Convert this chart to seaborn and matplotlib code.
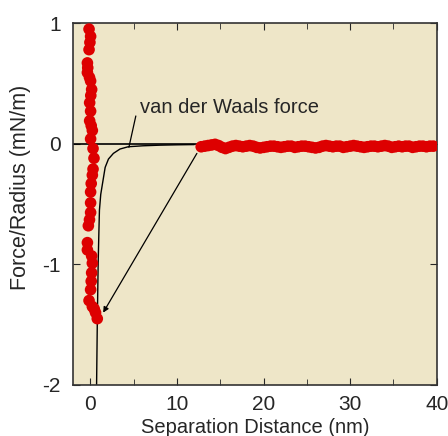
import numpy as np
import pandas as pd
import seaborn as sns
import matplotlib.pyplot as plt
from matplotlib.ticker import MultipleLocator

# approach branch (vertical column near contact)
col_x = [-0.15, 0.03, -0.05, -0.15, -0.34, -0.30, -0.34, -0.10, 0.03, 0.15, 0.05, -0.08,
         0.03, -0.08, 0.10, 0.23, 0.03, 0.31, 0.42, 0.31, 0.23, 0.10, 0.03, 0.03, 0.03,
         -0.10, -0.23, -0.34, -0.34, 0.15, 0.23, 0.15, 0.10, 0.03, -0.15, 0.23, 0.45,
         0.60, 0.80]
col_y = [0.95, 0.89, 0.84, 0.78, 0.67, 0.63, 0.59, 0.55, 0.52, 0.45, 0.40, 0.34,
         0.27, 0.19, 0.15, 0.11, 0.04, -0.04, -0.12, -0.21, -0.26, -0.33, -0.40, -0.49, -0.57,
         -0.63, -0.68, -0.82, -0.88, -0.93, -0.99, -1.07, -1.14, -1.21, -1.30, -1.35, -1.37,
         -1.40, -1.45]

# flat branch at large separation
row_x = [12.8, 13.2, 13.6, 14.0, 14.4, 14.8, 15.2, 15.6, 16.0, 16.4, 16.8, 17.2, 17.6, 18.0,
         18.4, 18.8, 19.2, 19.6, 20.0, 20.4, 20.8, 21.2, 21.6, 22.0, 22.4, 22.8, 23.2, 23.6,
         24.0, 24.4, 24.8, 25.2, 25.6, 26.0, 26.4, 26.8, 27.2, 27.6, 28.0, 28.4, 28.8, 29.2,
         29.6, 30.0, 30.4, 30.8, 31.2, 31.6, 32.0, 32.4, 32.8, 33.2, 33.6, 34.0, 34.4, 34.8,
         35.2, 35.6, 36.0, 36.4, 36.8, 37.2, 37.6, 38.0, 38.4, 38.8, 39.2, 39.6]
row_y = [-0.025, -0.020, -0.015, -0.010, -0.005, -0.015, -0.030, -0.040, -0.030, -0.020,
         -0.015, -0.020, -0.025, -0.020, -0.015, -0.020, -0.030, -0.035, -0.030, -0.025,
         -0.020, -0.020, -0.025, -0.030, -0.025, -0.020, -0.020, -0.030, -0.025, -0.020,
         -0.020, -0.025, -0.030, -0.035, -0.030, -0.020, -0.015, -0.020, -0.025, -0.020,
         -0.020, -0.030, -0.025, -0.020, -0.015, -0.020, -0.025, -0.030, -0.025, -0.020,
         -0.020, -0.025, -0.020, -0.015, -0.020, -0.030, -0.025, -0.020, -0.025, -0.020,
         -0.020, -0.030, -0.025, -0.020, -0.020, -0.025, -0.020, -0.020]

# van der Waals curve
vdw_x = [0.72, 0.80, 0.90, 0.98, 1.05, 1.20, 1.45, 1.71, 2.09, 2.66, 3.42, 4.37, 6.08, 8.0,
         10.0, 12.0]
vdw_y = [-2.0, -1.5, -1.0, -0.75, -0.55, -0.42, -0.31, -0.196, -0.127, -0.080, -0.044, -0.025,
         -0.017, -0.012, -0.009, -0.007]

df_pts = pd.DataFrame({'x': col_x + row_x, 'y': col_y + row_y})
df_vdw = pd.DataFrame({'x': vdw_x, 'y': vdw_y})

sns.set_style('ticks')
plt.rcParams['font.family'] = ['Liberation Sans', 'DejaVu Sans']
plt.rcParams['axes.unicode_minus'] = False

fig = plt.figure(figsize=(4.48, 4.36), dpi=100)
ax = fig.add_axes([0.163, 0.117, 0.812, 0.83])
ax.set_facecolor('#EEE6C8')

ax.axhline(0, color='black', linewidth=1.2, zorder=1)
sns.lineplot(data=df_vdw, x='x', y='y', sort=False, color='black', linewidth=1.0, ax=ax, zorder=2)
sns.scatterplot(data=df_pts, x='x', y='y', color='#DD0000', s=70, edgecolor='none', ax=ax, zorder=3)

ax.text(5.7, 0.30, 'van der Waals force', fontsize=14.5, va='center', ha='left')
ax.annotate('', xy=(4.45, -0.03), xytext=(5.25, 0.23),
            arrowprops=dict(arrowstyle='-', color='black', linewidth=0.9, shrinkA=0, shrinkB=0))
ax.annotate('', xy=(1.48, -1.40), xytext=(12.3, -0.08),
            arrowprops=dict(arrowstyle='-|>', color='black', linewidth=0.9,
                            mutation_scale=8, shrinkA=0, shrinkB=0))

ax.set_xlim(-2, 40)
ax.set_ylim(-2, 1)
ax.xaxis.set_major_locator(MultipleLocator(10))
ax.xaxis.set_minor_locator(MultipleLocator(5))
ax.yaxis.set_major_locator(MultipleLocator(1))
ax.tick_params(which='both', direction='in', top=True, right=True, labelsize=15)
ax.tick_params(axis='x', pad=7)
ax.tick_params(axis='y', pad=9)
ax.tick_params(which='major', length=5)
ax.tick_params(which='minor', length=4)
for s in ax.spines.values():
    s.set_linewidth(1.2)
    s.set_color('#333333')

ax.set_xlabel('Separation Distance (nm)', fontsize=14.5, labelpad=3)
ax.set_ylabel('Force/Radius (mN/m)', fontsize=15.5)
ax.yaxis.set_label_coords(-0.115, 0.547)

fig.savefig('out.png', dpi=100)
